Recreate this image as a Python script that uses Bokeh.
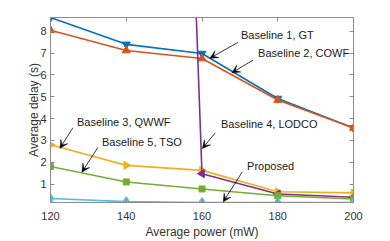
import math
from bokeh.plotting import figure
from bokeh.models import LinearAxis, FixedTicker, Range1d, Arrow, VeeHead, Label
from bokeh.embed import file_html
from bokeh.resources import INLINE

power = [120, 140, 160, 180, 200]
gt = [8.63, 7.40, 6.98, 4.92, 3.57]
cowf = [8.05, 7.12, 6.75, 4.85, 3.57]
qwwf = [2.80, 1.86, 1.63, 0.65, 0.60]
lodco = [150.0, 97.0, 1.48, 0.55, 0.40]
tso = [1.81, 1.10, 0.78, 0.47, 0.32]
proposed = [0.34, 0.20, 0.16, 0.16, 0.16]

x_ticks = [120, 140, 160, 180, 200]
y_ticks = [1, 2, 3, 4, 5, 6, 7, 8]

# annotations: text, text x, text y, arrow tail x, tail y, head x, head y
notes = [
    ("Baseline 1, GT", 170.3, 7.81, 169.5, 7.49, 162.1, 6.77),
    ("Baseline 2, COWF", 174.8, 7.00, 173.5, 6.68, 167.9, 6.10),
    ("Baseline 4, LODCO", 165.0, 3.75, 163.5, 3.35, 160.1, 2.63),
    ("Proposed", 171.9, 1.82, 170.6, 1.55, 165.6, 0.19),
    ("Baseline 3, QWWF", 127.0, 3.84, 125.9, 3.58, 122.5, 2.64),
    ("Baseline 5, TSO", 133.6, 2.95, 132.5, 2.68, 128.3, 1.55),
]

FONT = "Liberation Sans"
AX = "#8c8c8c"
TXT = "#333333"

p = figure(width=390, height=241, output_backend="svg", toolbar_location=None,
           x_range=Range1d(120, 200), y_range=Range1d(0.16, 8.63),
           min_border_left=50, min_border_right=37, min_border_top=17, min_border_bottom=35)
p.grid.visible = False
p.outline_line_color = None
p.background_fill_color = "white"
p.border_fill_color = "white"

series = [
    (gt, "#0072BD", "inverted_triangle", 0.0, 8),
    (cowf, "#D95319", "triangle", 0.0, 8),
    (qwwf, "#EDB120", "triangle", -math.pi / 2, 8),
    (lodco, "#7E2F8E", "triangle", math.pi / 2, 8),
    (tso, "#77AC30", "square", 0.0, 6),
    (proposed, "#4DBEEE", "diamond", 0.0, 10),
]
for ys, col, mk, ang, sz in series:
    p.line(power, ys, line_color=col, line_width=1.6)
    p.scatter(power, ys, marker=mk, angle=ang, size=sz, fill_color=col, line_color=col)

def style_axis(ax):
    ax.axis_line_color = AX
    ax.major_tick_line_color = AX
    ax.minor_tick_line_color = None
    ax.major_tick_in = 4
    ax.major_tick_out = 0
    ax.major_label_text_font = FONT
    ax.major_label_text_font_size = "11px"
    ax.major_label_text_color = TXT
    ax.axis_label_text_font = FONT
    ax.axis_label_text_font_size = "12px"
    ax.axis_label_text_font_style = "normal"
    ax.axis_label_text_color = TXT

xa = p.xaxis[0]
ya = p.yaxis[0]
xa.ticker = FixedTicker(ticks=x_ticks)
ya.ticker = FixedTicker(ticks=y_ticks)
style_axis(xa)
style_axis(ya)
xa.axis_label = "Average power (mW)"
ya.axis_label = "Average delay (s)"
xa.major_label_standoff = 9
xa.axis_label_standoff = 2
ya.major_label_standoff = 4
ya.axis_label_standoff = -4

top = LinearAxis(ticker=FixedTicker(ticks=x_ticks), major_label_overrides={t: "" for t in x_ticks})
right = LinearAxis(ticker=FixedTicker(ticks=y_ticks), major_label_overrides={t: "" for t in y_ticks})
for a in (top, right):
    style_axis(a)
    a.major_label_standoff = 0
p.add_layout(top, "above")
p.add_layout(right, "right")

for txt, tx, ty, x0, y0, x1, y1 in notes:
    p.add_layout(Label(x=tx, y=ty, text=txt, text_font=FONT, text_font_size="11px",
                       text_color="#1a1a1a", text_baseline="middle", text_align="left"))
    p.add_layout(Arrow(x_start=x0, y_start=y0, x_end=x1, y_end=y1, line_width=0.8,
                       line_color="black",
                       end=VeeHead(size=8, fill_color="black", line_color="black", line_width=0.5)))

open("out.html", "w").write(file_html(p, INLINE))
